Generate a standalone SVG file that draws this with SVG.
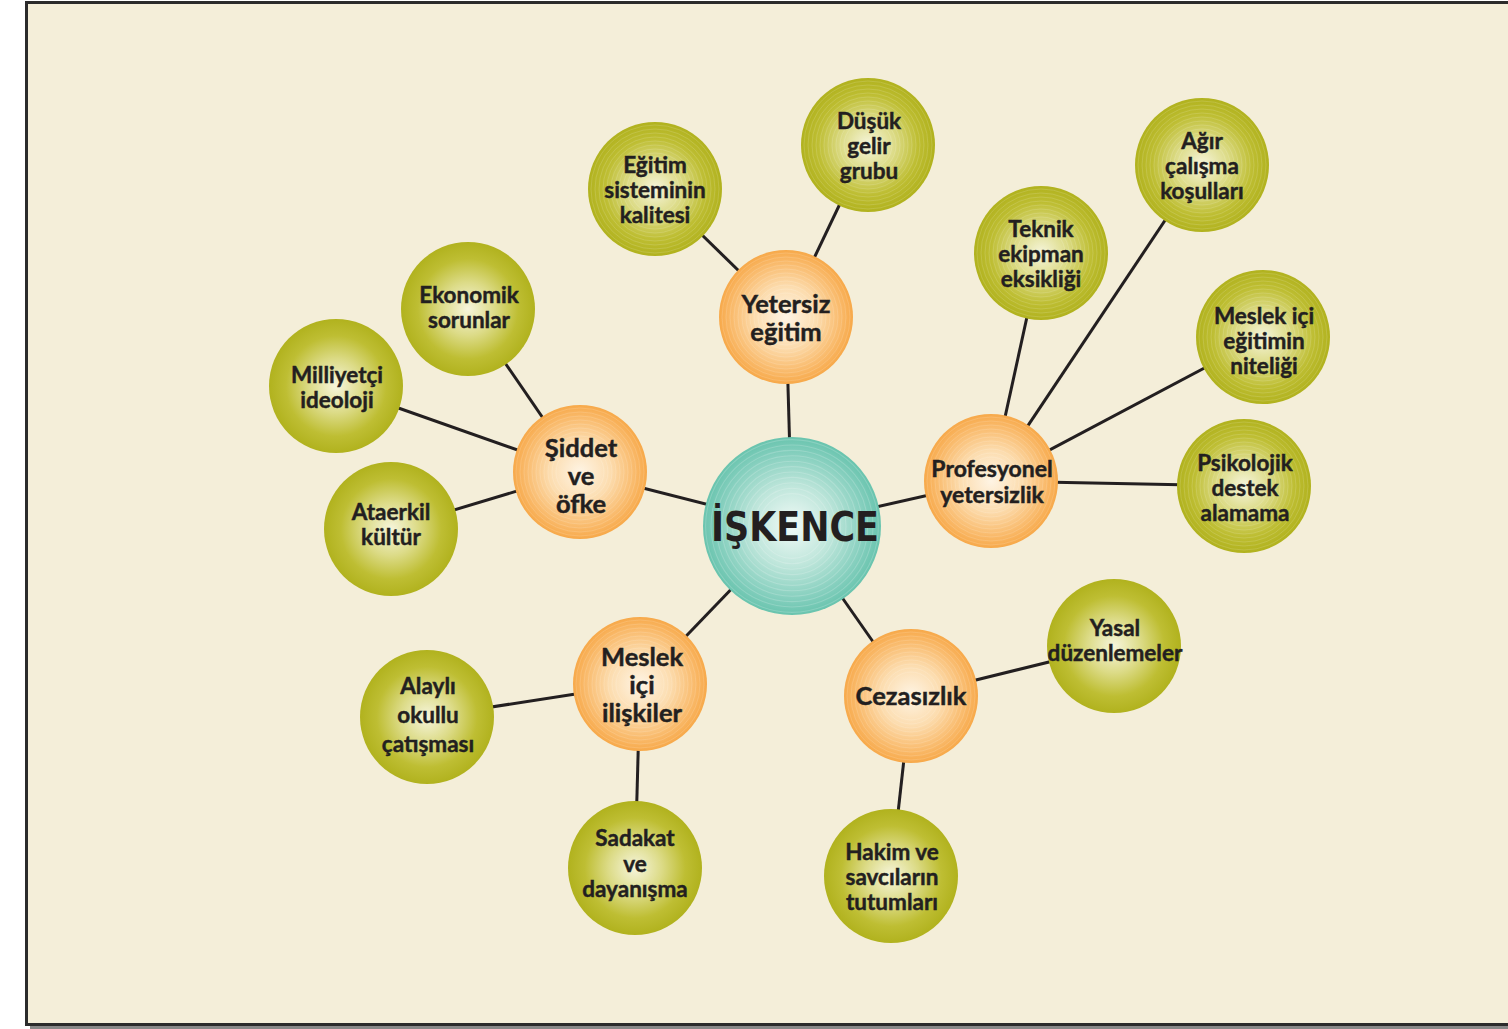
<svg xmlns="http://www.w3.org/2000/svg" width="1508" height="1029" viewBox="0 0 1508 1029">
<defs>
<radialGradient id="gOr" cx="50%" cy="50%" r="50%">
<stop offset="0" stop-color="#FEF4E4"/><stop offset="0.45" stop-color="#FCDDB0"/><stop offset="0.85" stop-color="#F9B765"/><stop offset="1" stop-color="#F7A94A"/>
</radialGradient>
<radialGradient id="gGr" cx="50%" cy="50%" r="50%">
<stop offset="0" stop-color="#F6F5DC"/><stop offset="0.4" stop-color="#DCDB87"/><stop offset="0.75" stop-color="#BEBE33"/><stop offset="1" stop-color="#B1B21E"/>
</radialGradient>
<radialGradient id="gTe" cx="50%" cy="50%" r="50%">
<stop offset="0" stop-color="#F1FAF7"/><stop offset="0.45" stop-color="#BFE6DB"/><stop offset="0.85" stop-color="#80CDBB"/><stop offset="1" stop-color="#69C4AE"/>
</radialGradient>
<g id="rings" fill="none" stroke="#FFFFFF" stroke-opacity="0.18" stroke-width="0.8">
<circle r="24"/><circle r="28"/><circle r="32"/><circle r="36"/><circle r="40"/><circle r="44"/><circle r="48"/><circle r="52"/><circle r="56"/><circle r="60"/><circle r="64"/>
</g>
</defs>
<style>
.o{fill:url(#gOr)}
.g{fill:url(#gGr)}
.t{fill:url(#gTe)}
.lb{font-family:Lato,"Liberation Sans",sans-serif;font-weight:700;fill:#231F20;stroke:#231F20;stroke-width:0.45;text-anchor:middle}
.s{font-size:22.5px}
.m{font-size:25.5px}
.c line{stroke:#231F20;stroke-width:3}
</style>
<rect x="0" y="0" width="1508" height="1029" fill="#FFFFFF"/>
<rect x="30" y="6" width="1490" height="1023" fill="#888888"/>
<rect x="26.5" y="2.5" width="1490" height="1022" fill="#F4EED9" stroke="#2B2B2B" stroke-width="3"/>

<g id="connectors" class="c">
<line x1="792" y1="526" x2="786" y2="317"/>
<line x1="786" y1="317" x2="655" y2="189"/>
<line x1="786" y1="317" x2="868" y2="145"/>
<line x1="792" y1="526" x2="580" y2="472"/>
<line x1="580" y1="472" x2="468" y2="309"/>
<line x1="580" y1="472" x2="336" y2="386"/>
<line x1="580" y1="472" x2="391" y2="529"/>
<line x1="792" y1="526" x2="991" y2="481"/>
<line x1="991" y1="481" x2="1041" y2="253"/>
<line x1="991" y1="481" x2="1202" y2="165"/>
<line x1="991" y1="481" x2="1263" y2="337"/>
<line x1="991" y1="481" x2="1244" y2="486"/>
<line x1="792" y1="526" x2="640" y2="684"/>
<line x1="640" y1="684" x2="427" y2="717"/>
<line x1="640" y1="684" x2="635" y2="868"/>
<line x1="792" y1="526" x2="911" y2="696"/>
<line x1="911" y1="696" x2="1114" y2="646"/>
<line x1="911" y1="696" x2="891" y2="876"/>
</g>

<g id="iskence"><circle cx="792" cy="526" r="89" class="t"/><use href="#rings" transform="translate(792,526) scale(1.35)"/><text x="795" y="541" font-family="'DejaVu Sans',sans-serif" font-weight="700" font-size="40" fill="#231F20" text-anchor="middle" textLength="168" lengthAdjust="spacingAndGlyphs">İŞKENCE</text></g>

<g id="yetersiz-egitim"><circle cx="786" cy="317" r="67" class="o"/><use href="#rings" transform="translate(786,317)"/><text class="lb m" x="786" y="313">Yetersiz</text><text class="lb m" x="786" y="341">eğitim</text></g>
<g id="siddet"><circle cx="580" cy="472" r="67" class="o"/><use href="#rings" transform="translate(580,472)"/><text class="lb m" x="581" y="457">Şiddet</text><text class="lb m" x="581" y="485">ve</text><text class="lb m" x="581" y="513">öfke</text></g>
<g id="profesyonel"><circle cx="991" cy="481" r="67" class="o"/><use href="#rings" transform="translate(991,481)"/><text class="lb" font-size="23" x="992" y="477">Profesyonel</text><text class="lb" font-size="23" x="992" y="503">yetersizlik</text></g>
<g id="meslek-ici-iliskiler"><circle cx="640" cy="684" r="67" class="o"/><use href="#rings" transform="translate(640,684)"/><text class="lb m" x="642" y="666">Meslek</text><text class="lb m" x="642" y="694">içi</text><text class="lb m" x="642" y="722">ilişkiler</text></g>
<g id="cezasizlik"><circle cx="911" cy="696" r="67" class="o"/><use href="#rings" transform="translate(911,696)"/><text class="lb m" x="911" y="705">Cezasızlık</text></g>

<g id="egitim-sistemi"><circle cx="655" cy="189" r="67" class="g"/><use href="#rings" transform="translate(655,189)"/><text class="lb s" x="655" y="173">Eğitim</text><text class="lb s" x="655" y="198">sisteminin</text><text class="lb s" x="655" y="223">kalitesi</text></g>
<g id="dusuk-gelir"><circle cx="868" cy="145" r="67" class="g"/><use href="#rings" transform="translate(868,145)"/><text class="lb s" x="869" y="129">Düşük</text><text class="lb s" x="869" y="154">gelir</text><text class="lb s" x="869" y="179">grubu</text></g>
<g id="ekonomik"><circle cx="468" cy="309" r="67" class="g"/><text class="lb s" x="469" y="303">Ekonomik</text><text class="lb s" x="469" y="328">sorunlar</text></g>
<g id="milliyetci"><circle cx="336" cy="386" r="67" class="g"/><text class="lb s" x="337" y="383">Milliyetçi</text><text class="lb s" x="337" y="408">ideoloji</text></g>
<g id="ataerkil"><circle cx="391" cy="529" r="67" class="g"/><text class="lb s" x="391" y="520">Ataerkil</text><text class="lb s" x="391" y="545">kültür</text></g>
<g id="teknik"><circle cx="1041" cy="253" r="67" class="g"/><use href="#rings" transform="translate(1041,253)"/><text class="lb s" x="1041" y="237">Teknik</text><text class="lb s" x="1041" y="262">ekipman</text><text class="lb s" x="1041" y="287">eksikliği</text></g>
<g id="agir-calisma"><circle cx="1202" cy="165" r="67" class="g"/><use href="#rings" transform="translate(1202,165)"/><text class="lb s" x="1202" y="149">Ağır</text><text class="lb s" x="1202" y="174">çalışma</text><text class="lb s" x="1202" y="199">koşulları</text></g>
<g id="meslek-ici-egitim"><circle cx="1263" cy="337" r="67" class="g"/><use href="#rings" transform="translate(1263,337)"/><text class="lb s" x="1264" y="324">Meslek içi</text><text class="lb s" x="1264" y="349">eğitimin</text><text class="lb s" x="1264" y="374">niteliği</text></g>
<g id="psikolojik"><circle cx="1244" cy="486" r="67" class="g"/><use href="#rings" transform="translate(1244,486)"/><text class="lb s" x="1245" y="471">Psikolojik</text><text class="lb s" x="1245" y="496">destek</text><text class="lb s" x="1245" y="521">alamama</text></g>
<g id="yasal"><circle cx="1114" cy="646" r="67" class="g"/><text class="lb s" x="1115" y="636">Yasal</text><text class="lb s" x="1115" y="661">düzenlemeler</text></g>
<g id="alayli"><circle cx="427" cy="717" r="67" class="g"/><text class="lb s" x="428" y="694">Alaylı</text><text class="lb s" x="428" y="723">okullu</text><text class="lb s" x="428" y="752">çatışması</text></g>
<g id="sadakat"><circle cx="635" cy="868" r="67" class="g"/><text class="lb s" x="635" y="846">Sadakat</text><text class="lb s" x="635" y="872">ve</text><text class="lb s" x="635" y="897">dayanışma</text></g>
<g id="hakim"><circle cx="891" cy="876" r="67" class="g"/><text class="lb s" x="892" y="860">Hakim ve</text><text class="lb s" x="892" y="885">savcıların</text><text class="lb s" x="892" y="910">tutumları</text></g>
</svg>
